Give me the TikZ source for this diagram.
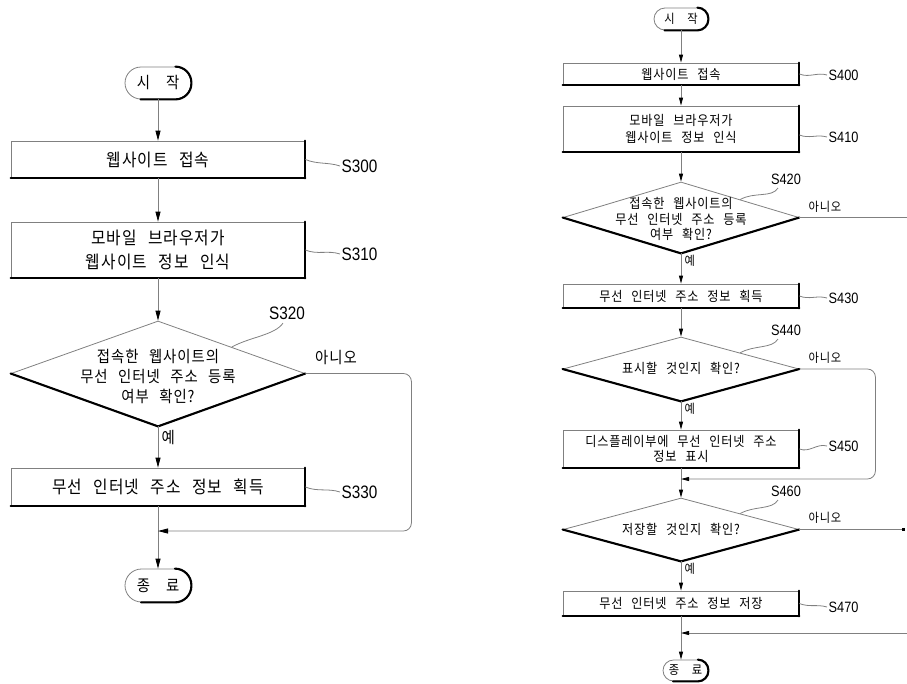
\documentclass[tikz,border=0pt]{standalone}
\usepackage{fontspec}
\setmainfont{Noto Sans CJK KR}[FakeStretch=0.9, LetterSpace=6, WordSpace=2.5]
\newfontfamily\stepfont{Liberation Sans}[FakeStretch=0.85]
\usetikzlibrary{arrows.meta,shapes.geometric,calc}

% heavy right half of a start/end terminal
\newcommand\termedge[2]{%
  \draw[heavyedge, rounded corners=#2pt] ($(#1.south west)+(#2,0)$) -- (#1.south east)
    -- (#1.north east) -- ($(#1.north east)-(#2,0)$);}

\begin{document}
\begin{tikzpicture}[x=1pt, y=-1pt, >={Triangle[length=10pt,width=5pt,color=black]},
    flow/.style={draw=black!50, line width=0.8pt},
    heavyedge/.style={draw=black, line width=2.1pt, line cap=round},
    proc/.style={flow, rectangle, inner sep=0pt, align=center,
      append after command={(\tikzlastnode.north east) edge[heavyedge] (\tikzlastnode.south east)
        (\tikzlastnode.south east) edge[heavyedge] (\tikzlastnode.south west)}},
    decide/.style={flow, diamond, inner sep=0pt,
      append after command={(\tikzlastnode.west) edge[heavyedge] (\tikzlastnode.south)
        (\tikzlastnode.south) edge[heavyedge] (\tikzlastnode.east)}},
    term/.style={flow, rectangle, inner sep=0pt, rounded corners=#1pt, minimum height={2*#1pt}},
    big/.style={font=\fontsize{17.5}{24}\selectfont},
    mid/.style={font=\fontsize{16}{20}\selectfont},
    small/.style={font=\fontsize{13.5}{17}\selectfont},
    tiny/.style={font=\fontsize{12.5}{15}\selectfont},
    steplbl/.style={font=\stepfont\fontsize{#1}{#1}\selectfont, anchor=west, inner sep=1.5pt}]
  \useasboundingbox (0,0) rectangle (907,683);

  % left flow chart
  \node[term=16, minimum width=66pt, mid] (LS) at (158,83) {시\quad 작};
  \node[proc, minimum width=294pt, minimum height=37pt, big] (L300) at (158,159.5) {웹사이트 접속};
  \node[proc, minimum width=294pt, minimum height=56pt, big] (L310) at (158,250) {모바일 브라우저가\\웹사이트 정보 인식};
  \node[decide, minimum width=294pt, minimum height=105pt] (L320) at (158,373.5) {};
  \node[mid, align=center] (L320t) at (158,377) {접속한 웹사이트의\\무선 인터넷 주소 등록\\여부 확인?};
  \node[proc, minimum width=294pt, minimum height=38pt, big] (L330) at (158,487) {무선 인터넷 주소 정보 획득};
  \node[term=16.5, minimum width=66pt, mid] (LE) at (158,585.5) {종\quad 료};
  \termedge{LS}{16}
  \termedge{LE}{16.5}
  \coordinate (LJ) at (158,531);

  \draw[flow,->] (LS) -- (L300);
  \draw[flow,->] (L300) -- (L310);
  \draw[flow,->] (L310) -- (L320);
  \draw[flow,->] (L320) -- node[pos=0.27, right, mid] (LYes) {예} (L330);
  \draw[flow,->] (L330) -- (LE);
  \draw[flow,->, rounded corners=8pt] (L320.east) -- ++(106,0) |- (LJ);
  \node[mid] (LNo) at (336,358) {아니오};

  \node[steplbl=18] (T300) at (340,166) {S300};
  \node[steplbl=18] (T310) at (340,254) {S310};
  \node[steplbl=18, anchor=center] (T320) at (287,313) {S320};
  \node[steplbl=18] (T330) at (340,492) {S330};
  \draw[flow] (L300.east) .. controls +(12,5) and +(-12,-4) .. (T300.west);
  \draw[flow] (L310.east) .. controls +(12,5) and +(-12,-4) .. (T310.west);
  \draw[flow] ($(L320.north)!0.5!(L320.east)$) .. controls +(18,-10) and +(-8,12) .. ($(T320.south)+(-4,2)$);
  \draw[flow] (L330.east) .. controls +(12,5) and +(-12,-4) .. (T330.west);

  % right flow chart
  \begin{scope}[>={Triangle[length=8pt,width=4pt,color=black]}]
    \node[term=11, minimum width=54pt, tiny] (RS) at (681,19) {시\quad 작};
    \node[proc, minimum width=236pt, minimum height=22pt, small] (R400) at (681,74) {웹사이트 접속};
    \node[proc, minimum width=236pt, minimum height=46pt, small] (R410) at (681,129) {모바일 브라우저가\\웹사이트 정보 인식};
    \node[decide, minimum width=236pt, minimum height=71pt] (R420) at (681,217.5) {};
    \node[small, align=center, font=\fontsize{13.5}{15.5}\selectfont] (R420t) at (681,219) {접속한 웹사이트의\\무선 인터넷 주소 등록\\여부 확인?};
    \node[proc, minimum width=236pt, minimum height=24pt, small] (R430) at (681,296) {무선 인터넷 주소 정보 획득};
    \node[decide, minimum width=236pt, minimum height=64pt] (R440) at (681,369) {};
    \node[small] (R440t) at (681,368) {표시할 것인지 확인?};
    \node[proc, minimum width=236pt, minimum height=38pt, small, font=\fontsize{13.5}{15}\selectfont] (R450) at (681,449) {디스플레이부에 무선 인터넷 주소\\정보 표시};
    \node[decide, minimum width=236pt, minimum height=63pt] (R460) at (681,529.5) {};
    \node[small] (R460t) at (681,529) {저장할 것인지 확인?};
    \node[proc, minimum width=236pt, minimum height=25pt, small] (R470) at (681,603.5) {무선 인터넷 주소 정보 저장};
    \node[term=10.5, minimum width=45pt, tiny] (RE) at (685.5,670.5) {종\quad 료};
    \termedge{RS}{11}
    \termedge{RE}{10.5}
    \coordinate (RJ1) at (681,479);
    \coordinate (RJ2) at (681,633);
    \coordinate (RX1) at (907,217.5);
    \coordinate (RX2) at (905,529.5);
    \coordinate (RX3) at (907,633);

    \draw[flow,->] (RS) -- (R400);
    \draw[flow,->] (R400) -- (R410);
    \draw[flow,->] (R410) -- (R420);
    \draw[flow,->] (R420) -- node[pos=0.25, right, tiny] (RYes1) {예} (R430);
    \draw[flow,->] (R430) -- (R440);
    \draw[flow,->] (R440) -- node[pos=0.25, right, tiny] (RYes2) {예} (R450);
    \draw[flow,->] (R450) -- (R460);
    \draw[flow,->] (R460) -- node[pos=0.25, right, tiny] (RYes3) {예} (R470);
    \draw[flow,->] (R470) -- (R470 |- RE.north);
    \draw[flow] (R420.east) -- (RX1);
    \draw[flow,->, rounded corners=8pt] (R440.east) -- ++(76,0) |- (RJ1);
    \draw[flow, -{Square[length=3pt,width=3pt,color=black]}] (R460.east) -- (RX2);
    \draw[flow,->] (RX3) -- (RJ2);
    \node[tiny] (RNo1) at (825,207) {아니오};
    \node[tiny] (RNo2) at (825,358) {아니오};
    \node[tiny] (RNo3) at (825,518) {아니오};

    \node[steplbl=15] (T400) at (827,75) {S400};
    \node[steplbl=15] (T410) at (827,137) {S410};
    \node[steplbl=15, anchor=center] (T420) at (786,179) {S420};
    \node[steplbl=15] (T430) at (827,298) {S430};
    \node[steplbl=15, anchor=center] (T440) at (786,330) {S440};
    \node[steplbl=15] (T450) at (827,446) {S450};
    \node[steplbl=15, anchor=center] (T460) at (786,491) {S460};
    \node[steplbl=15] (T470) at (827,607) {S470};
    \draw[flow] (R400.east) .. controls +(10,4) and +(-10,-3) .. (T400.west);
    \draw[flow] ($(R410.east)+(0,6)$) .. controls +(10,4) and +(-10,-3) .. (T410.west);
    \draw[flow] ($(R420.north)!0.5!(R420.east)$) .. controls +(14,-8) and +(-6,10) .. ($(T420.south)+(-8,2)$);
    \draw[flow] (R430.east) .. controls +(10,4) and +(-10,-3) .. (T430.west);
    \draw[flow] ($(R440.north)!0.5!(R440.east)$) .. controls +(14,-8) and +(-6,10) .. ($(T440.south)+(-8,2)$);
    \draw[flow] (R450.east) .. controls +(10,4) and +(-10,-3) .. (T450.west);
    \draw[flow] ($(R460.north)!0.5!(R460.east)$) .. controls +(14,-8) and +(-6,10) .. ($(T460.south)+(-8,2)$);
    \draw[flow] (R470.east) .. controls +(10,4) and +(-10,-3) .. (T470.west);
  \end{scope}
\end{tikzpicture}
\end{document}
